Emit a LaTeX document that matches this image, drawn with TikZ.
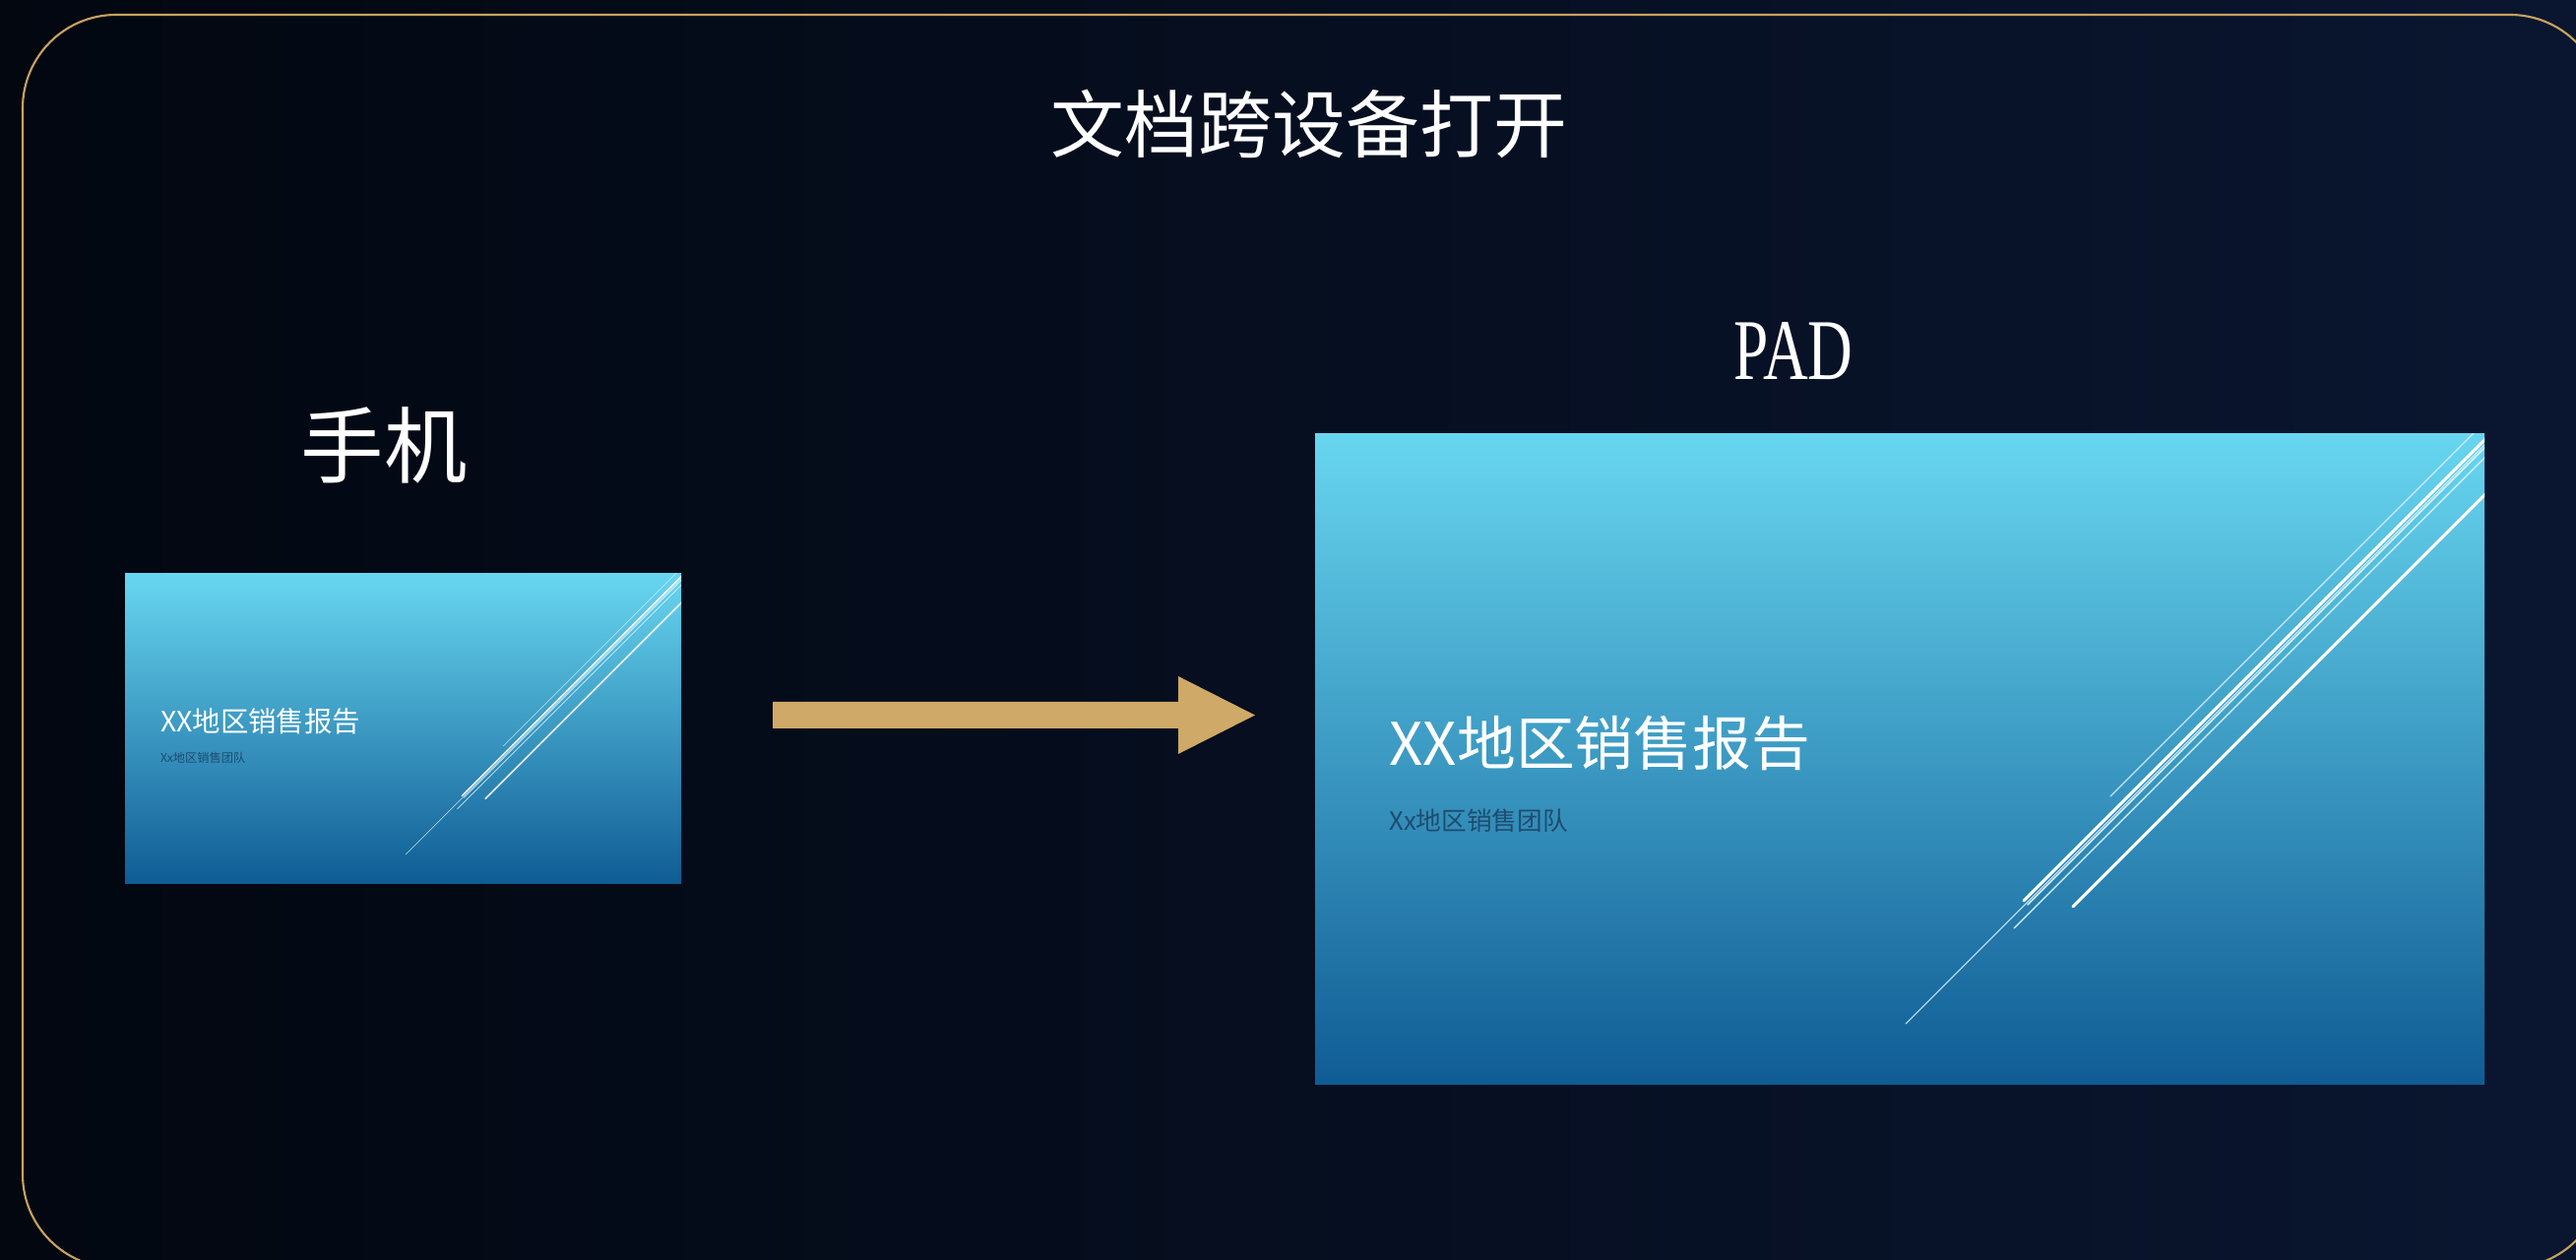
\documentclass[tikz,border=0pt]{standalone}
\usepackage{fontspec}
\usepackage{graphicx}
\usetikzlibrary{calc}
\newfontfamily\cjk{Noto Sans CJK SC}
\newfontfamily\padserif{Liberation Serif}
\definecolor{bgL}{RGB}{2,7,16}
\definecolor{bgR}{RGB}{10,22,48}
\definecolor{goldline}{RGB}{201,162,94}
\definecolor{goldarrow}{RGB}{207,169,103}
\definecolor{slT}{RGB}{104,214,240}
\definecolor{slM}{RGB}{62,160,204}
\definecolor{slB}{RGB}{15,92,148}
\definecolor{subC}{RGB}{30,76,112}
\tikzset{
  bigtitle/.style={text=white, font=\cjk\fontsize{21.3}{21.3}\selectfont, inner sep=0pt},
  devlabel/.style={text=white, font=\cjk\fontsize{24}{24}\selectfont, inner sep=0pt},
  slidetitle/.style={text=white, font=\cjk\fontsize{17}{17}\selectfont, inner sep=0pt, anchor=west},
  slidesub/.style={text=subC, font=\cjk\fontsize{7.3}{7.3}\selectfont, inner sep=0pt, anchor=west},
  trail/.style={draw=white, line cap=round},
}
\newcommand\slidecontent[2]{%
  \shade[top color=slT, middle color=slM, bottom color=slB] (0,0) rectangle (1188,661);
  \coordinate (#1nw) at (0,0);
  \coordinate (#1se) at (1188,661);
  \begin{scope}
    \clip (0,0) rectangle (1188,661);
    \draw[trail, white!85!cyan, line width=0.3pt*#2, opacity=0.9] (600,599) -- (1188,11);
    \draw[trail, line width=0.85pt*#2] (720,474) -- (1190,4);
    \draw[trail, white!90!cyan, line width=0.45pt*#2, opacity=0.9] (724,478) -- (1194,8);
    \draw[trail, white!85!cyan, line width=0.35pt*#2, opacity=0.85] (808,368) -- (1178,-2);
    \draw[trail, white!85!cyan, line width=0.4pt*#2, opacity=0.9] (710,502) -- (1190,22);
    \draw[trail, line width=0.85pt*#2] (770,480) -- (1190,60);
  \end{scope}
  \node[slidetitle] (#1title) at (75,314) {XX地区销售报告};
  \node[slidesub] (#1sub) at (75,393) {Xx地区销售团队};
}
\begin{document}
\begin{tikzpicture}[x=0.01cm,y=-0.01cm]
\useasboundingbox (0,0) rectangle (2617,1280);
\shade[left color=bgL, right color=bgR] (0,0) rectangle (2617,1280);
\draw[goldline, line width=0.6pt, rounded corners=0.95cm] (23,15) rectangle (2645,1288);

\node[bigtitle] (title) at (1330,126) {文档跨设备打开};
\node[devlabel] (phonelabel) at (390,452) {手机};
\node[text=white, inner sep=0pt, font=\padserif\fontsize{25}{25}\selectfont] (padlabel) at (1822,357) {\scalebox{0.72}[1]{PAD}};

% phone slide
\begin{scope}[shift={(127,583)}, scale=0.4756, transform shape]
  \slidecontent{ph}{0.4756}
\end{scope}
% pad slide
\begin{scope}[shift={(1336,441)}]
  \slidecontent{pd}{1}
\end{scope}

% arrow
\coordinate (arrS) at (785,726.5);
\coordinate (arrE) at (1275,726.5);
\fill[goldarrow] ($(arrS)+(0,-13.5)$) -- (1197,713) -- (1197,687) -- (arrE) -- (1197,766) -- (1197,740) -- ($(arrS)+(0,13.5)$) -- cycle;
\end{tikzpicture}
\end{document}
